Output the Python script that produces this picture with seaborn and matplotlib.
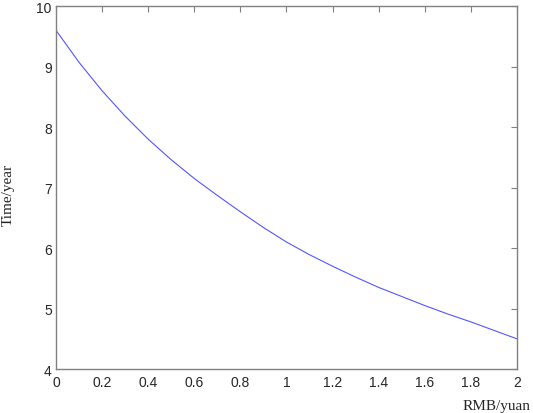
import seaborn as sns
import matplotlib.pyplot as plt
import pandas as pd

# values
rmb = [0, 0.1, 0.2, 0.3, 0.4, 0.5, 0.6, 0.7, 0.8, 0.9, 1.0,
       1.1, 1.2, 1.3, 1.4, 1.5, 1.6, 1.7, 1.8, 1.9, 2.0]
years = [9.6, 9.07, 8.6, 8.18, 7.8, 7.46, 7.15, 6.87, 6.6, 6.34, 6.1,
         5.89, 5.7, 5.52, 5.35, 5.2, 5.05, 4.91, 4.78, 4.64, 4.5]
xticks = [0, 0.2, 0.4, 0.6, 0.8, 1, 1.2, 1.4, 1.6, 1.8, 2]
xticklabels = ['0', '0.2', '0.4', '0.6', '0.8', '1', '1.2', '1.4', '1.6', '1.8', '2']
yticks = [4, 5, 6, 7, 8, 9, 10]

df = pd.DataFrame({'rmb': rmb, 'years': years})

sns.set_style('white')
plt.rcParams['font.family'] = ['Liberation Sans', 'DejaVu Sans']

fig = plt.figure(figsize=(5.33, 4.14), dpi=100)
ax = fig.add_axes([0.105, 0.106, 0.865, 0.877])

sns.lineplot(data=df, x='rmb', y='years', ax=ax, color='#5555ff', lw=0.8)

ax.set_xlim(0, 2)
ax.set_ylim(4, 10)
ax.set_xticks(xticks)
ax.set_xticklabels(xticklabels)
ax.set_yticks(yticks)
ax.tick_params(direction='in', length=4, width=0.8, color='#808080',
               labelsize=10, top=True, right=True, pad=4)
ax.tick_params(axis='y', pad=3)

for s in ax.spines.values():
    s.set_color('#808080')
    s.set_linewidth(1.0)

ax.set_xlabel('')
ax.set_ylabel('')
fig.text(0.995, 0.01, 'RMB/yuan', ha='right', va='baseline',
         fontsize=11, family='Liberation Serif')
fig.text(0.016, 0.529, 'Time/year', ha='center', va='center', rotation=90,
         fontsize=11, family='Liberation Serif')

fig.savefig('out.png', dpi=100)
